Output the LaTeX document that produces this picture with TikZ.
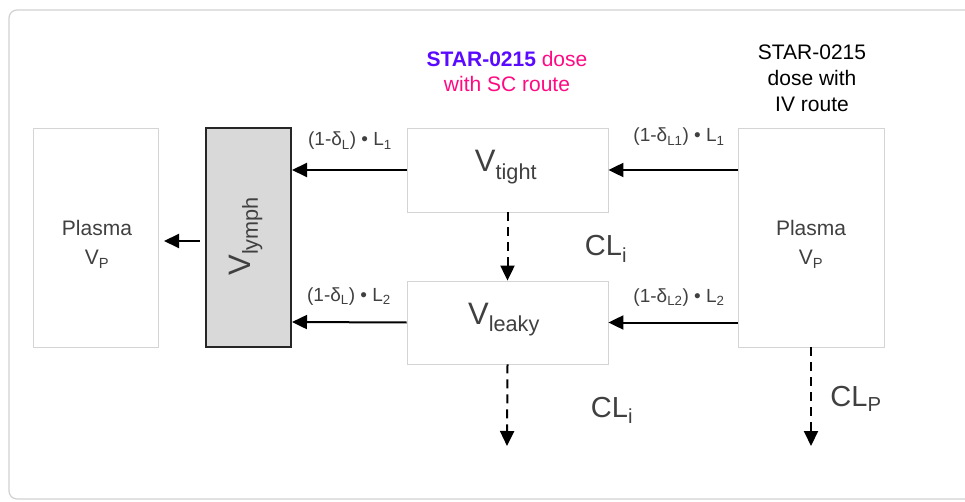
\documentclass[tikz,border=0pt]{standalone}
\usepackage{fontspec}
\setmainfont{Liberation Sans}
\usetikzlibrary{arrows.meta}
\definecolor{txt}{HTML}{404040}
\definecolor{boxb}{HTML}{D4D4D4}
\definecolor{starblue}{HTML}{5A0AFF}
\definecolor{pinkc}{HTML}{FF0A82}
\tikzset{
  lightbox/.style={draw=boxb, line width=0.8pt, fill=white, inner sep=0pt},
  lymphbox/.style={draw=black!85, line width=2pt, fill=black!15, inner sep=0pt},
  flow/.style={line width=2pt, -{Triangle[length=15pt,width=14pt]}},
  elim/.style={line width=2pt, dash pattern=on 9pt off 6pt, -{Triangle[length=15pt,width=14pt]}},
  lbl/.style={text=txt, font=\fontsize{19}{22}\selectfont, inner sep=0pt, anchor=base},
  big/.style={text=txt, font=\fontsize{31}{34}\selectfont, inner sep=0pt, anchor=base},
  clt/.style={text=txt, font=\fontsize{29}{32}\selectfont, inner sep=0pt, anchor=base},
  med/.style={font=\fontsize{21}{26}\selectfont, inner sep=0pt, anchor=base},
}
\begin{document}
\begin{tikzpicture}[x=1pt,y=-1pt]
\useasboundingbox (0,0) rectangle (965,502);
\begin{scope}
\clip (0,0) rectangle (965,502);
\fill[white] (0,0) rectangle (965,502);
\draw[black!18, line width=1.2pt, rounded corners=8pt] (9,10) rectangle (985,499);
\end{scope}
% boxes
\node[lightbox, minimum width=125pt, minimum height=219pt] (pl) at (95.5,237.5) {};
\node[lymphbox, minimum width=85pt, minimum height=219pt] (ly) at (248.5,237.5) {};
\node[lightbox, minimum width=201pt, minimum height=84pt] (vt) at (507.5,170) {};
\node[lightbox, minimum width=201pt, minimum height=83pt] (vl) at (507.5,322.5) {};
\node[lightbox, minimum width=146pt, minimum height=219pt] (pr) at (811,237.5) {};
% texts in boxes
\node[med, text=txt] at (97,236) {Plasma};
\node[med, text=txt] at (97,265) {V\textsubscript{P}};
\node[med, text=txt] at (811,236) {Plasma};
\node[med, text=txt] at (811,265) {V\textsubscript{P}};
\node[big] at (506,172) {V\textsubscript{tight}};
\node[big] at (504,324) {V\textsubscript{leaky}};
\node[big, rotate=90, anchor=center] at (246,236) {V\textsubscript{lymph}};
% top texts
\node[med] at (507,67) {\textcolor{starblue}{\textbf{STAR-0215}} \textcolor{pinkc}{dose}};
\node[med] at (507,92) {\textcolor{pinkc}{with SC route}};
\node[med] at (812,60) {STAR-0215};
\node[med] at (812,86) {dose with};
\node[med] at (812,112) {IV route};
% coordinates
\coordinate (ltA) at (292,170);
\coordinate (ltB) at (292,322);
\coordinate (plA) at (164,241);
\coordinate (lyA) at (200,241);
\coordinate (e1) at (507,446);
\coordinate (e2) at (811,446);
% arrows
\draw[flow] (vt.west) -- (ltA);
\draw[flow] (vl.west) -- (ltB);
\draw[flow] (pr.west |- vt.west) -- (vt.east);
\draw[flow] (pr.west |- vl.west) -- (vl.east);
\draw[flow] (lyA) -- (plA);
\draw[elim] (vt.south) -- (vl.north);
\draw[elim] (vl.south) -- (e1);
\draw[elim] (pr.south) -- (e2);
% labels
\node[lbl] at (350,146) {(1-δ\textsubscript{L}) • L\textsubscript{1}};
\node[lbl] at (679,142) {(1-δ\textsubscript{L1}) • L\textsubscript{1}};
\node[lbl] at (349,301) {(1-δ\textsubscript{L}) • L\textsubscript{2}};
\node[lbl] at (679,302) {(1-δ\textsubscript{L2}) • L\textsubscript{2}};
\node[clt] at (606,256) {CL\textsubscript{i}};
\node[clt] at (612,417) {CL\textsubscript{i}};
\node[clt] at (856,406) {CL\textsubscript{P}};
\end{tikzpicture}
\end{document}
